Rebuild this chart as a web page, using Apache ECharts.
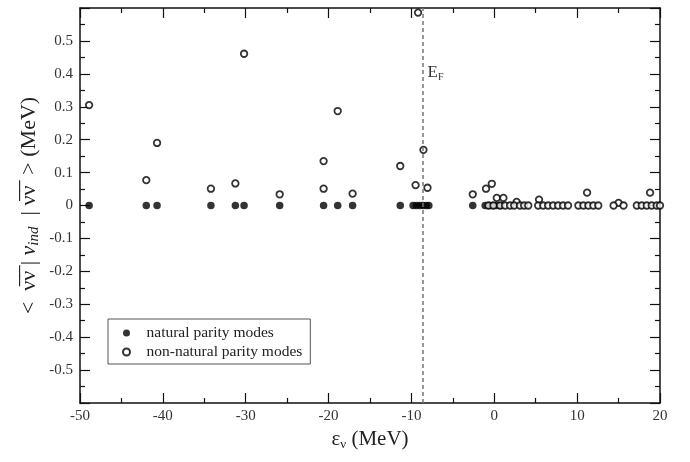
<!DOCTYPE html>
<html>
<head>
<meta charset="utf-8">
<script src="https://cdn.jsdelivr.net/npm/echarts@6/dist/echarts.min.js"></script>
<style>html,body{margin:0;padding:0;background:#fff;}#c{width:690px;height:462px;}</style>
</head>
<body>
<div id="c"></div>
<script>
// ---- data ----
const xTicks = [-50, -40, -30, -20, -10, 0, 10, 20];
const yTicks = [-0.5, -0.4, -0.3, -0.2, -0.1, 0, 0.1, 0.2, 0.3, 0.4, 0.5];
const naturalX = [-48.9, -42.0, -40.7, -34.2, -31.25, -30.2, -25.9, -20.6, -18.9, -17.1, -11.35,
  -9.8, -9.4, -9.0, -8.6, -8.2, -7.9, -2.6, -1.1, -0.6, -0.2, 0.3, 0.8];
const naturalY = [0, 0, 0, 0, 0, 0, 0, 0, 0, 0, 0, 0, 0, 0, 0, 0, 0, 0, 0, 0, 0, 0, 0];
const nonNaturalX = [-48.9, -42.0, -40.7, -34.2, -31.25, -30.2, -25.9, -20.6, -20.6, -18.9, -17.1,
  -11.35, -9.5, -9.2, -8.55, -8.06, -2.6, -1.0, -0.3, 0.3, 1.1, 2.7, 5.4, 11.2, 15.0, 18.8,
  -0.7, -0.1, 0.7, 1.3, 1.9, 2.4, 3.1, 3.6, 4.1, 5.3, 5.9, 6.5, 7.1, 7.7, 8.3, 8.9,
  10.15, 10.75, 11.35, 11.95, 12.55, 14.4, 15.6, 17.2, 17.8, 18.4, 19.0, 19.6, 20.0];
const nonNaturalY = [0.305, 0.077, 0.19, 0.051, 0.067, 0.461, 0.034, 0.135, 0.051, 0.287, 0.036,
  0.12, 0.062, 0.586, 0.169, 0.054, 0.034, 0.051, 0.066, 0.023, 0.023, 0.011, 0.018, 0.039, 0.008, 0.039,
  0, 0, 0, 0, 0, 0, 0, 0, 0, 0, 0, 0, 0, 0, 0, 0,
  0, 0, 0, 0, 0, 0, 0, 0, 0, 0, 0, 0, 0];
const fermiEnergy = -8.6;
const fermiLabelY = 0.405;
const seriesNames = ['natural parity modes', 'non-natural parity modes'];

// ---- chart ----
const serif = 'Liberation Serif';
const zip = (xs, ys) => xs.map((x, i) => [x, ys[i]]);
const chart = echarts.init(document.getElementById('c'));

const axisLineStyle = { color: '#111', width: 1.5 };
const xBase = {
  type: 'value', min: -50, max: 20, interval: 10,
  splitLine: { show: false },
  axisLine: { show: true, onZero: false, lineStyle: axisLineStyle },
  axisTick: { show: true, inside: true, length: 10, lineStyle: { color: '#111', width: 1.2 } },
  minorTick: { show: true, splitNumber: 2, length: 5, lineStyle: { color: '#111', width: 1.2 } }
};
const yBase = {
  type: 'value', min: -0.6, max: 0.6, interval: 0.1,
  splitLine: { show: false },
  axisLine: { show: true, onZero: false, lineStyle: axisLineStyle },
  axisTick: { show: true, inside: true, length: 10, lineStyle: { color: '#111', width: 1.2 } },
  minorTick: { show: true, splitNumber: 2, length: 5, lineStyle: { color: '#111', width: 1.2 } }
};

const option = {
  backgroundColor: '#fff',
  animation: false,
  grid: { left: 80, right: 30, top: 8, bottom: 59 },
  legend: {
    orient: 'vertical', left: 108, top: 319,
    padding: [6, 8, 4, 14], itemGap: 3,
    itemWidth: 30, itemHeight: 7,
    borderColor: '#555', borderWidth: 1, backgroundColor: '#fff',
    textStyle: { fontFamily: serif, fontSize: 15.5, color: '#222' },
    data: seriesNames
  },
  xAxis: [
    Object.assign({}, xBase, {
      position: 'bottom',
      axisLabel: {
        fontFamily: serif, fontSize: 15, color: '#333', margin: 6,
        formatter: v => xTicks.includes(Math.round(v)) ? String(Math.round(v)) : ''
      },
      name: '{a|ε}{s|ν}{a| (MeV)}', nameLocation: 'middle', nameGap: 25,
      nameTextStyle: {
        fontFamily: serif, color: '#222',
        rich: {
          a: { fontFamily: serif, fontSize: 21, color: '#222' },
          s: { fontFamily: serif, fontSize: 13, color: '#222', padding: [10, 0, 0, 0] }
        }
      }
    }),
    Object.assign({}, xBase, { position: 'top', axisLabel: { show: false } })
  ],
  yAxis: [
    Object.assign({}, yBase, {
      position: 'left',
      axisLabel: {
        fontFamily: serif, fontSize: 15, color: '#333', margin: 7,
        formatter: v => {
          const r = Math.round(v * 10) / 10;
          return yTicks.some(t => Math.abs(t - r) < 1e-9) ? String(r) : '';
        }
      },
      name: '{a|<  \u03BD\u0305\u03BD\u0305 | }{i|v}{s|ind}{a|  | \u03BD\u0305\u03BD\u0305  > (MeV)}',
      nameLocation: 'middle', nameGap: 38, nameRotate: 90, nameMoveOverlap: false,
      nameTextStyle: {
        fontFamily: serif, color: '#222',
        rich: {
          a: { fontFamily: serif, fontSize: 22, color: '#222' },
          i: { fontFamily: serif, fontSize: 22, fontStyle: 'italic', color: '#222' },
          s: { fontFamily: serif, fontSize: 15, fontStyle: 'italic', color: '#222', padding: [11, 0, 0, 0] }
        }
      }
    }),
    Object.assign({}, yBase, { position: 'right', axisLabel: { show: false } })
  ],
  series: [
    {
      name: seriesNames[0], type: 'scatter', xAxisIndex: 0, yAxisIndex: 0,
      symbol: 'circle', symbolSize: 7.5,
      itemStyle: { color: '#000' },
      data: zip(naturalX, naturalY),
      markLine: {
        silent: true, symbol: 'none', animation: false,
        lineStyle: { color: '#777', type: [4, 3], width: 1.5 },
        label: { show: false },
        data: [{ xAxis: fermiEnergy }]
      }
    },
    {
      name: seriesNames[1], type: 'scatter', xAxisIndex: 0, yAxisIndex: 0,
      symbol: 'circle', symbolSize: 6.5,
      itemStyle: { color: '#fff', borderColor: '#000', borderWidth: 1.8 },
      data: zip(nonNaturalX, nonNaturalY),
      markPoint: {
        silent: true, symbol: 'circle', symbolSize: 1,
        itemStyle: { color: 'rgba(0,0,0,0)', borderWidth: 0 },
        label: {
          show: true, position: 'right', distance: 4,
          formatter: '{e|E}{f|F}',
          rich: {
            e: { fontFamily: serif, fontSize: 17, color: '#333' },
            f: { fontFamily: serif, fontSize: 10, color: '#333', padding: [10, 0, 0, 0] }
          }
        },
        data: [{ coord: [fermiEnergy, fermiLabelY] }]
      }
    }
  ]
};
chart.setOption(option);
</script>
</body>
</html>
